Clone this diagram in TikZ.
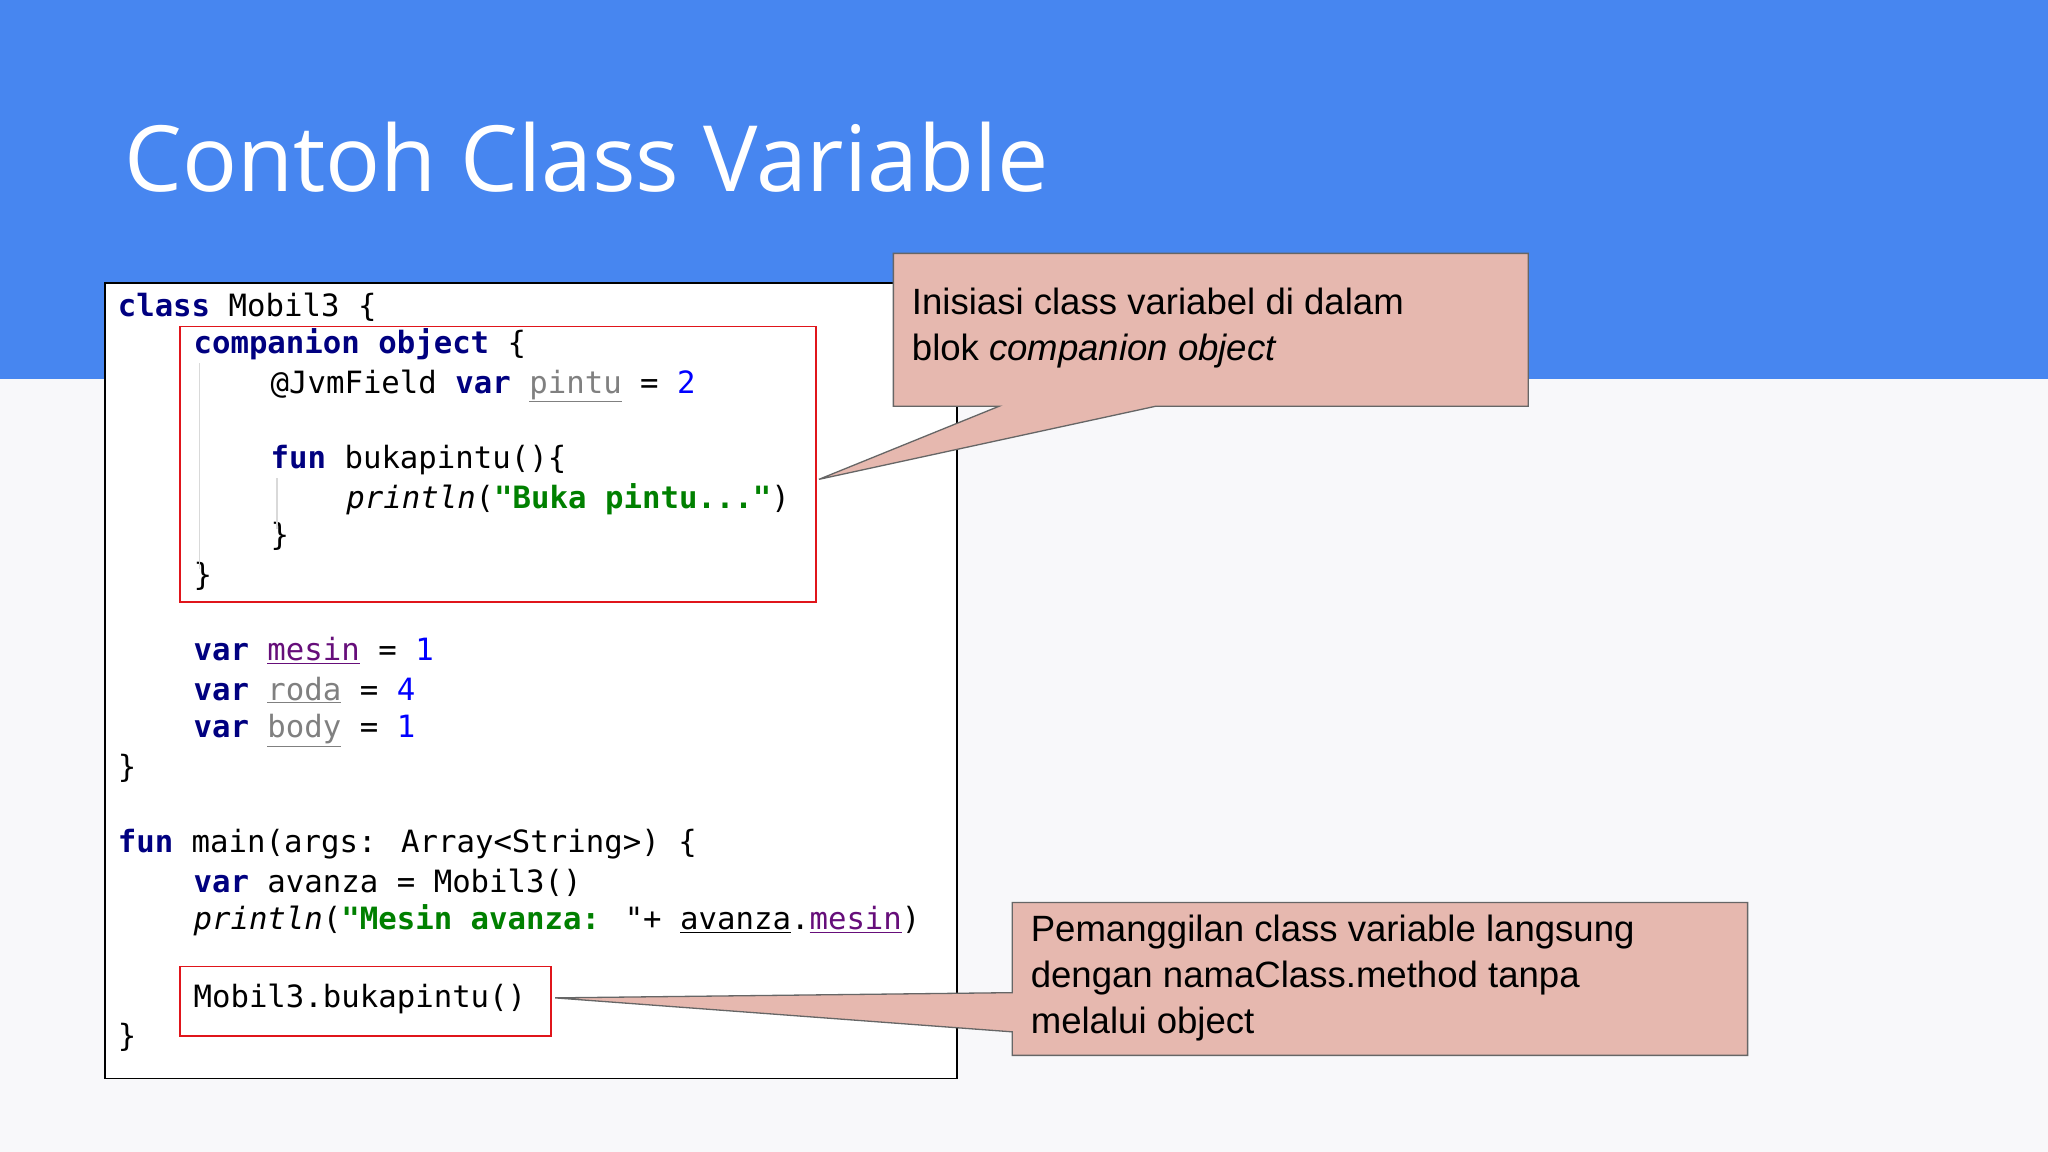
\documentclass[tikz,border=0pt]{standalone}
\usepackage{fontspec}
\setmainfont{Liberation Sans}
\newfontfamily\codefont{DejaVu Sans Mono}
\newfontfamily\titlefont{Open Sans}
\definecolor{band}{HTML}{4786F0}
\definecolor{bgc}{HTML}{F8F8FA}
\definecolor{kwc}{HTML}{000080}
\definecolor{nmc}{HTML}{0000FF}
\definecolor{stc}{HTML}{008000}
\definecolor{prc}{HTML}{660E7A}
\definecolor{grc}{HTML}{808080}
\definecolor{callc}{HTML}{E6B8AF}
\definecolor{redb}{HTML}{E0151B}
\newcommand{\kw}[1]{{\bfseries\color{kwc}#1}}
\newcommand{\nm}[1]{{\color{nmc}#1}}
\newcommand{\st}[1]{{\bfseries\color{stc}#1}}
\newcommand{\pr}[1]{{\color{prc}\underline{#1}}}
\newcommand{\gr}[1]{{\color{grc}\underline{#1}}}
\begin{document}
\begin{tikzpicture}[x=1pt,y=-1pt,
  code/.style={anchor=base west,inner sep=0pt,font=\codefont\fontsize{23.5}{28}\selectfont},
  calltext/.style={anchor=north west,align=left,inner sep=0pt,font=\fontsize{28}{35.5}\selectfont},
  callshape/.style={fill=callc,draw=black!60,line width=1pt,line join=miter},
  redbox/.style={draw=redb,line width=1.3pt}]
\useasboundingbox (0,0) rectangle (1568,882);
\fill[bgc] (0,0) rectangle (1568,882);
\fill[band] (0,0) rectangle (1568,290);
\node[anchor=base west,inner sep=0pt,text=white,font=\titlefont\fontsize{70}{80}\selectfont] (title) at (95,147) {Contoh Class Variable};
% code box
\node[draw=black,line width=1.3pt,fill=white,minimum width=652pt,minimum height=609pt,anchor=north west,inner sep=0pt] (codebox) at (80,216) {};
\node[code] (l1) at (90,242) {\kw{class} Mobil3 \{};
\node[code] (l2) at (148,271) {\kw{companion object} \{};
\node[code] (l3) at (207,301) {@JvmField \kw{var} \gr{pintu} = \nm{2}};
\node[code] (l5) at (207,359) {\kw{fun} bukapintu()\{};
\node[code] (l6) at (265,389) {\textit{println}(\st{"Buka pintu..."})};
\node[code] (l7) at (207,418) {\}};
\node[code] (l8) at (148,448) {\}};
\node[code] (l9) at (148,506) {\kw{var} \pr{mesin} = \nm{1}};
\node[code] (l10) at (148,536) {\kw{var} \gr{roda} = \nm{4}};
\node[code] (l11) at (148,565) {\kw{var} \gr{body} = \nm{1}};
\node[code] (l12) at (90,595) {\}};
\node[code] (l13) at (90,653) {\kw{fun} main(args: Array<String>) \{};
\node[code] (l14) at (148,683) {\kw{var} avanza = Mobil3()};
\node[code] (l15) at (148,712) {\textit{println}(\st{"Mesin avanza: }"+ \underline{avanza}.\pr{mesin})};
\node[code] (l16) at (148,771) {Mobil3.bukapintu()};
\node[code] (l17) at (90,801) {\}};
\draw[black!15,line width=1pt] (153,278) -- (153,436) (212,366) -- (212,405);
\draw[redbox] (138,250) rectangle (625,461);
\draw[redbox] (138,740) rectangle (422,793);
% callout 1
\coordinate (tip1) at (627,367);
\draw[callshape] (684,194) -- (1170,194) -- (1170,311) -- (885,311) -- (tip1) -- (765,311) -- (684,311) -- cycle;
\node[calltext] (c1) at (698,220) {Inisiasi class variabel di dalam\\blok \textit{companion object}};
% callout 2
\coordinate (tip2) at (425,764);
\draw[callshape] (775,691) -- (1338,691) -- (1338,808) -- (775,808) -- (775,790) -- (tip2) -- (775,760) -- cycle;
\node[calltext] (c2) at (789,700) {Pemanggilan class variable langsung\\dengan namaClass.method tanpa\\melalui object};
\end{tikzpicture}
\end{document}
